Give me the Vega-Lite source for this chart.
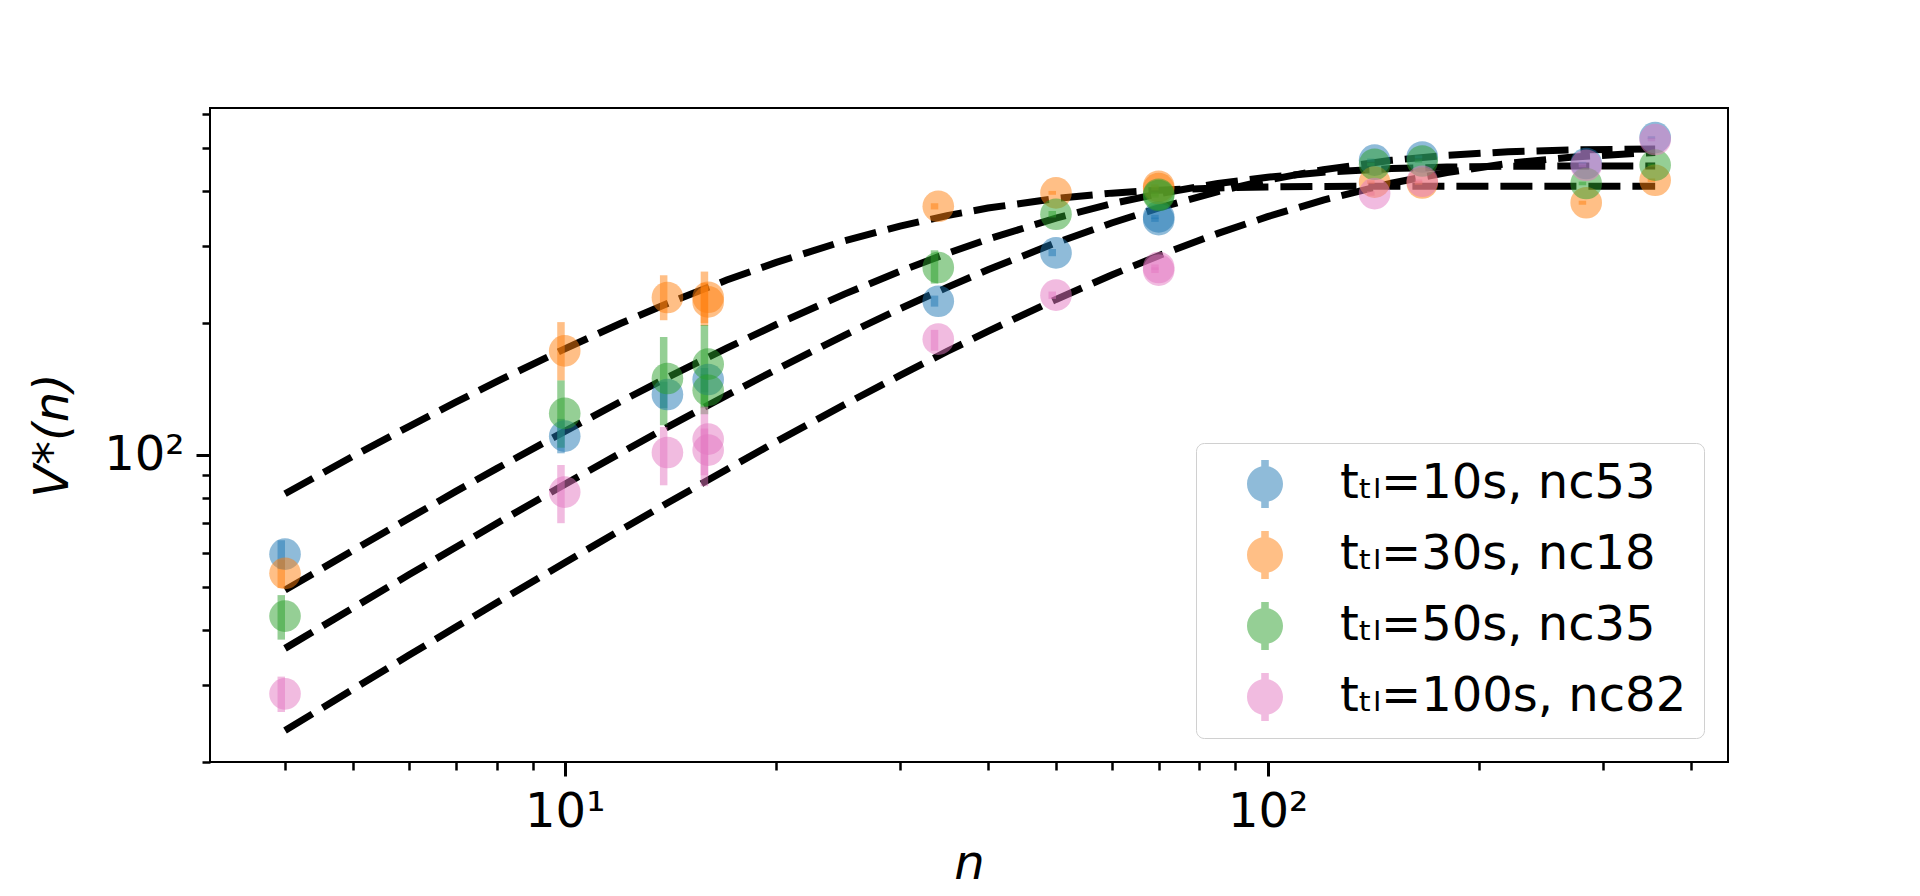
{
  "$schema": "https://vega.github.io/schema/vega-lite/v6.json",
  "width": 1518,
  "height": 654,
  "autosize": {"type": "none"},
  "padding": {"left": 210, "top": 108, "right": 192, "bottom": 134},
  "background": "#FFFFFF",
  "config": {
    "view": {"stroke": "black", "strokeWidth": 2},
    "axis": {
      "domain": false,
      "grid": false,
      "tickColor": "black",
      "labelColor": "black",
      "titleColor": "black",
      "labelFont": "DejaVu Sans",
      "titleFont": "DejaVu Sans",
      "labelFontSize": 48,
      "titleFontSize": 48,
      "titleFontWeight": "normal"
    }
  },
  "resolve": {"axis": {"x": "independent", "y": "independent"}},
  "datasets": {
    "fits": [
      {"n": 4, "V": 81.7, "f": "o"}, {"n": 5, "V": 99.5, "f": "o"}, {"n": 6, "V": 116.2, "f": "o"},
      {"n": 7, "V": 132.1, "f": "o"}, {"n": 8, "V": 147.1, "f": "o"}, {"n": 10, "V": 174.7, "f": "o"},
      {"n": 12, "V": 199.5, "f": "o"}, {"n": 14, "V": 221.6, "f": "o"}, {"n": 17, "V": 250.6, "f": "o"},
      {"n": 20, "V": 275.0, "f": "o"}, {"n": 25, "V": 307.7, "f": "o"}, {"n": 30, "V": 332.6, "f": "o"},
      {"n": 35, "V": 351.3, "f": "o"}, {"n": 40, "V": 365.6, "f": "o"}, {"n": 50, "V": 384.5, "f": "o"},
      {"n": 60, "V": 395.4, "f": "o"}, {"n": 70, "V": 401.6, "f": "o"}, {"n": 85, "V": 406.3, "f": "o"},
      {"n": 100, "V": 408.4, "f": "o"}, {"n": 120, "V": 409.5, "f": "o"}, {"n": 150, "V": 410, "f": "o"},
      {"n": 220, "V": 410, "f": "o"}, {"n": 356, "V": 410, "f": "o"},

      {"n": 4, "V": 49.3, "f": "g"}, {"n": 5, "V": 60.7, "f": "g"}, {"n": 6, "V": 71.8, "f": "g"},
      {"n": 7, "V": 82.7, "f": "g"}, {"n": 8, "V": 93.2, "f": "g"}, {"n": 10, "V": 113.3, "f": "g"},
      {"n": 12, "V": 132.4, "f": "g"}, {"n": 14, "V": 150.3, "f": "g"}, {"n": 17, "V": 175.4, "f": "g"},
      {"n": 20, "V": 198.5, "f": "g"}, {"n": 25, "V": 232.8, "f": "g"}, {"n": 30, "V": 262.5, "f": "g"},
      {"n": 35, "V": 288.2, "f": "g"}, {"n": 40, "V": 310.6, "f": "g"}, {"n": 50, "V": 346.7, "f": "g"},
      {"n": 60, "V": 373.9, "f": "g"}, {"n": 70, "V": 394.3, "f": "g"}, {"n": 85, "V": 415.8, "f": "g"},
      {"n": 100, "V": 429.8, "f": "g"}, {"n": 120, "V": 441.2, "f": "g"}, {"n": 150, "V": 449.7, "f": "g"},
      {"n": 180, "V": 453.3, "f": "g"}, {"n": 220, "V": 455.2, "f": "g"}, {"n": 270, "V": 455.8, "f": "g"},
      {"n": 356, "V": 456, "f": "g"},

      {"n": 4, "V": 36.3, "f": "b"}, {"n": 5, "V": 44.9, "f": "b"}, {"n": 6, "V": 53.4, "f": "b"},
      {"n": 7, "V": 61.7, "f": "b"}, {"n": 8, "V": 69.9, "f": "b"}, {"n": 10, "V": 85.8, "f": "b"},
      {"n": 12, "V": 101.1, "f": "b"}, {"n": 14, "V": 115.9, "f": "b"}, {"n": 17, "V": 136.9, "f": "b"},
      {"n": 20, "V": 156.8, "f": "b"}, {"n": 25, "V": 187.6, "f": "b"}, {"n": 30, "V": 215.7, "f": "b"},
      {"n": 35, "V": 241.2, "f": "b"}, {"n": 40, "V": 264.4, "f": "b"}, {"n": 50, "V": 304.7, "f": "b"},
      {"n": 60, "V": 338.1, "f": "b"}, {"n": 70, "V": 365.8, "f": "b"}, {"n": 85, "V": 398.7, "f": "b"},
      {"n": 100, "V": 423.4, "f": "b"}, {"n": 120, "V": 447.2, "f": "b"}, {"n": 150, "V": 469.6, "f": "b"},
      {"n": 180, "V": 482.3, "f": "b"}, {"n": 220, "V": 491.2, "f": "b"}, {"n": 270, "V": 495.9, "f": "b"},
      {"n": 356, "V": 498.4, "f": "b"},

      {"n": 4, "V": 23.6, "f": "p"}, {"n": 5, "V": 29.3, "f": "p"}, {"n": 6, "V": 35.0, "f": "p"},
      {"n": 7, "V": 40.6, "f": "p"}, {"n": 8, "V": 46.1, "f": "p"}, {"n": 10, "V": 56.9, "f": "p"},
      {"n": 12, "V": 67.5, "f": "p"}, {"n": 14, "V": 77.8, "f": "p"}, {"n": 17, "V": 92.8, "f": "p"},
      {"n": 20, "V": 107.4, "f": "p"}, {"n": 25, "V": 130.4, "f": "p"}, {"n": 30, "V": 152.0, "f": "p"},
      {"n": 35, "V": 172.3, "f": "p"}, {"n": 40, "V": 191.5, "f": "p"}, {"n": 50, "V": 226.4, "f": "p"},
      {"n": 60, "V": 257.4, "f": "p"}, {"n": 70, "V": 284.8, "f": "p"}, {"n": 85, "V": 320.1, "f": "p"},
      {"n": 100, "V": 349.5, "f": "p"}, {"n": 120, "V": 381.2, "f": "p"}, {"n": 150, "V": 416.4, "f": "p"},
      {"n": 180, "V": 440.7, "f": "p"}, {"n": 220, "V": 462.1, "f": "p"}, {"n": 270, "V": 477.5, "f": "p"},
      {"n": 356, "V": 489.6, "f": "p"}
    ],
    "obs": [
      {"n": 4, "V": 59.5, "lo": 55, "hi": 64, "s": "tₜₗ=10s, nc53"},
      {"n": 10, "V": 110.5, "lo": 101, "hi": 121, "s": "tₜₗ=10s, nc53"},
      {"n": 14, "V": 137.5, "lo": 128, "hi": 147, "s": "tₜₗ=10s, nc53"},
      {"n": 16, "V": 148.7, "lo": 139, "hi": 158, "s": "tₜₗ=10s, nc53"},
      {"n": 34, "V": 224.3, "lo": 218, "hi": 231, "s": "tₜₗ=10s, nc53"},
      {"n": 50, "V": 289, "lo": 284, "hi": 295, "s": "tₜₗ=10s, nc53"},
      {"n": 70, "V": 349, "lo": 345, "hi": 353, "s": "tₜₗ=10s, nc53"},
      {"n": 70, "V": 344, "lo": 340, "hi": 348, "s": "tₜₗ=10s, nc53"},
      {"n": 142, "V": 470, "lo": 466, "hi": 474, "s": "tₜₗ=10s, nc53"},
      {"n": 166, "V": 478, "lo": 474, "hi": 482, "s": "tₜₗ=10s, nc53"},
      {"n": 284, "V": 462, "lo": 458, "hi": 466, "s": "tₜₗ=10s, nc53"},
      {"n": 356, "V": 529, "lo": 525, "hi": 533, "s": "tₜₗ=10s, nc53"},

      {"n": 4, "V": 53.8, "lo": 49.8, "hi": 57.8, "s": "tₜₗ=30s, nc18"},
      {"n": 10, "V": 172.9, "lo": 148, "hi": 201, "s": "tₜₗ=30s, nc18"},
      {"n": 14, "V": 228.7, "lo": 203, "hi": 257, "s": "tₜₗ=30s, nc18"},
      {"n": 16, "V": 229, "lo": 197, "hi": 262, "s": "tₜₗ=30s, nc18"},
      {"n": 16, "V": 223.5, "lo": 200, "hi": 247, "s": "tₜₗ=30s, nc18"},
      {"n": 34, "V": 369, "lo": 363, "hi": 375, "s": "tₜₗ=30s, nc18"},
      {"n": 50, "V": 396, "lo": 392, "hi": 400, "s": "tₜₗ=30s, nc18"},
      {"n": 70, "V": 410, "lo": 406, "hi": 414, "s": "tₜₗ=30s, nc18"},
      {"n": 70, "V": 405, "lo": 401, "hi": 409, "s": "tₜₗ=30s, nc18"},
      {"n": 142, "V": 419, "lo": 415, "hi": 423, "s": "tₜₗ=30s, nc18"},
      {"n": 166, "V": 417, "lo": 413, "hi": 421, "s": "tₜₗ=30s, nc18"},
      {"n": 284, "V": 376, "lo": 372, "hi": 380, "s": "tₜₗ=30s, nc18"},
      {"n": 356, "V": 423, "lo": 419, "hi": 427, "s": "tₜₗ=30s, nc18"},

      {"n": 4, "V": 43.0, "lo": 38, "hi": 48, "s": "tₜₗ=50s, nc35"},
      {"n": 10, "V": 124.5, "lo": 104, "hi": 148, "s": "tₜₗ=50s, nc35"},
      {"n": 14, "V": 149.5, "lo": 117, "hi": 186, "s": "tₜₗ=50s, nc35"},
      {"n": 16, "V": 161.2, "lo": 124, "hi": 198, "s": "tₜₗ=50s, nc35"},
      {"n": 16, "V": 140.6, "lo": 128, "hi": 153, "s": "tₜₗ=50s, nc35"},
      {"n": 34, "V": 267.7, "lo": 246, "hi": 293, "s": "tₜₗ=50s, nc35"},
      {"n": 50, "V": 354, "lo": 348, "hi": 360, "s": "tₜₗ=50s, nc35"},
      {"n": 70, "V": 390.5, "lo": 386, "hi": 395, "s": "tₜₗ=50s, nc35"},
      {"n": 70, "V": 393, "lo": 389, "hi": 397, "s": "tₜₗ=50s, nc35"},
      {"n": 142, "V": 460, "lo": 456, "hi": 464, "s": "tₜₗ=50s, nc35"},
      {"n": 166, "V": 468, "lo": 464, "hi": 472, "s": "tₜₗ=50s, nc35"},
      {"n": 284, "V": 416, "lo": 412, "hi": 420, "s": "tₜₗ=50s, nc35"},
      {"n": 356, "V": 458, "lo": 454, "hi": 462, "s": "tₜₗ=50s, nc35"},

      {"n": 4, "V": 28.6, "lo": 26, "hi": 31.3, "s": "tₜₗ=100s, nc82"},
      {"n": 10, "V": 82.4, "lo": 70, "hi": 95, "s": "tₜₗ=100s, nc82"},
      {"n": 14, "V": 101.4, "lo": 85.4, "hi": 116, "s": "tₜₗ=100s, nc82"},
      {"n": 16, "V": 108.8, "lo": 85, "hi": 129, "s": "tₜₗ=100s, nc82"},
      {"n": 16, "V": 102.7, "lo": 90, "hi": 115, "s": "tₜₗ=100s, nc82"},
      {"n": 34, "V": 183.8, "lo": 173, "hi": 193, "s": "tₜₗ=100s, nc82"},
      {"n": 50, "V": 231.5, "lo": 227, "hi": 236, "s": "tₜₗ=100s, nc82"},
      {"n": 70, "V": 267.7, "lo": 264, "hi": 272, "s": "tₜₗ=100s, nc82"},
      {"n": 70, "V": 264, "lo": 260, "hi": 268, "s": "tₜₗ=100s, nc82"},
      {"n": 142, "V": 394.5, "lo": 390, "hi": 399, "s": "tₜₗ=100s, nc82"},
      {"n": 166, "V": 420.7, "lo": 416, "hi": 425, "s": "tₜₗ=100s, nc82"},
      {"n": 284, "V": 457.6, "lo": 453, "hi": 462, "s": "tₜₗ=100s, nc82"},
      {"n": 356, "V": 523.7, "lo": 519, "hi": 528, "s": "tₜₗ=100s, nc82"}
    ]
  },
  "layer": [
    {
      "data": {"name": "fits"},
      "mark": {"type": "line", "color": "black", "strokeWidth": 7, "strokeDash": [32, 12], "clip": true},
      "encoding": {
        "x": {
          "field": "n", "type": "quantitative",
          "scale": {"type": "log", "domain": [3.18, 444.6], "nice": false, "zero": false},
          "axis": {
            "orient": "bottom", "values": [10, 100], "tickSize": 14, "tickWidth": 3,
            "labelPadding": 12, "labelExpr": "datum.value == 10 ? '10¹' : '10²'",
            "labelFlush": false, "labelOverlap": false,
            "title": "n", "titleFontStyle": "italic", "titlePadding": 4
          }
        },
        "y": {
          "field": "V", "type": "quantitative",
          "scale": {"type": "log", "domain": [20, 618], "nice": false, "zero": false},
          "axis": {
            "orient": "left", "values": [100], "tickSize": 14, "tickWidth": 3,
            "labelPadding": 12, "labelExpr": "'10²'", "labelOverlap": false,
            "title": "V*(n)", "titleFontStyle": "italic", "titlePadding": 26
          }
        },
        "detail": {"field": "f", "type": "nominal"}
      }
    },
    {
      "data": {"name": "obs"},
      "mark": {"type": "bar", "size": 7.5, "opacity": 0.5, "xOffset": -3.75},
      "encoding": {
        "x": {
          "field": "n", "type": "quantitative",
          "axis": {
            "orient": "bottom", "values": [4, 5, 6, 7, 8, 9, 20, 30, 40, 50, 60, 70, 80, 90, 200, 300, 400],
            "tickSize": 8, "tickWidth": 2.5, "labels": false, "title": null
          }
        },
        "y": {
          "field": "lo", "type": "quantitative",
          "axis": {
            "orient": "left", "values": [20, 30, 40, 50, 60, 70, 80, 90, 200, 300, 400, 500, 600],
            "tickSize": 8, "tickWidth": 2.5, "labels": false, "title": null
          }
        },
        "y2": {"field": "hi"},
        "color": {"field": "s", "type": "nominal"}
      }
    },
    {
      "data": {"name": "obs"},
      "mark": {"type": "point", "filled": true, "size": 1000, "opacity": 0.5},
      "encoding": {
        "x": {"field": "n", "type": "quantitative", "axis": null},
        "y": {"field": "V", "type": "quantitative", "axis": null},
        "color": {
          "field": "s", "type": "nominal",
          "scale": {
            "domain": ["tₜₗ=10s, nc53", "tₜₗ=30s, nc18", "tₜₗ=50s, nc35", "tₜₗ=100s, nc82"],
            "range": ["#1f77b4", "#ff7f0e", "#2ca02c", "#e377c2"]
          },
          "legend": {
            "orient": "bottom-right", "offset": 24, "title": null,
            "labelFont": "DejaVu Sans", "labelFontSize": 48, "labelColor": "black", "labelLimit": 1000,
            "symbolType": "M-1,0A1,1,0,1,1,1,0A1,1,0,1,1,-1,0ZM-0.21,-1.33H0.21V1.33H-0.21Z",
            "symbolSize": 1296, "symbolOpacity": 0.5, "symbolStrokeWidth": 0,
            "rowPadding": 23, "padding": 17, "symbolOffset": 28, "labelOffset": 51,
            "strokeColor": "#d0d0d0", "fillColor": "rgba(255,255,255,0.8)", "cornerRadius": 8
          }
        }
      }
    }
  ]
}
